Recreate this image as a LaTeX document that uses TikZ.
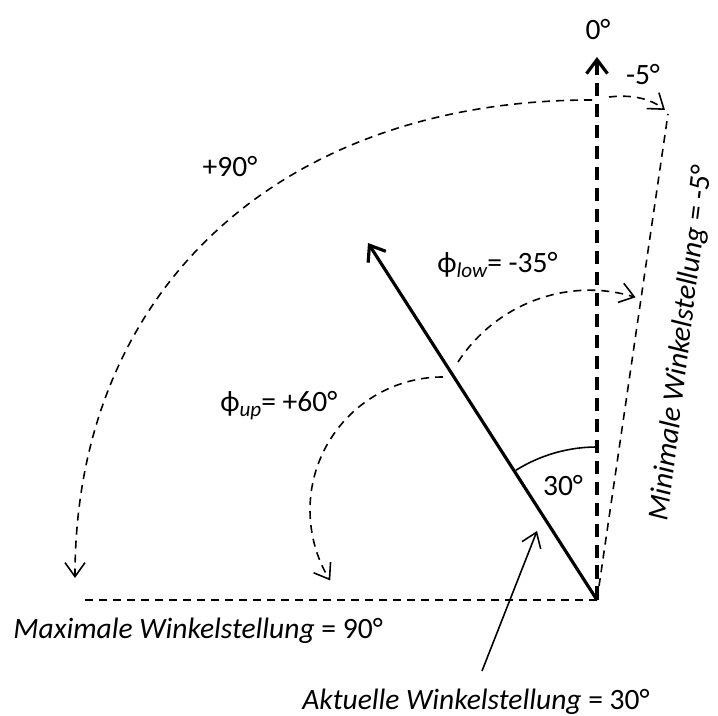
\documentclass[tikz,border=0pt]{standalone}
\usepackage{fontspec}
\setmainfont{Carlito}
\usetikzlibrary{arrows.meta}
\newcommand{\angsub}[1]{\raisebox{-0.1cm}{\fontsize{12}{12}\selectfont\itshape #1}}

\begin{document}
\begin{tikzpicture}[
  x=0.02cm, y=0.02cm,
  every node/.style={inner sep=0pt, font=\fontsize{16.8}{20}\selectfont},
  axis/.style={line width=1.8pt, dash pattern=on 0.27cm off 0.15cm},
  limit/.style={line width=0.9pt, dash pattern=on 0.16cm off 0.12cm},
  thinhead/.style={-{Straight Barb[length=0.28cm,width=0.4cm]}},
  bighead/.style={-{Straight Barb[length=0.28cm,width=0.42cm]}},
  pointer/.style={line width=0.9pt}
]
\useasboundingbox (0,0) rectangle (718,716);

\coordinate (O) at (597,116);
\coordinate (top) at (597,659);
\coordinate (left) at (80,116);
\coordinate (minend) at (668,602);
\coordinate (act) at (368,473);
\coordinate (aktfoot) at (482,45);
\coordinate (akthead) at (537,185);
\coordinate (maxs) at (592,616);
\coordinate (maxe) at (75,138);
\coordinate (mins) at (609,619);
\coordinate (mine) at (665,606);
\coordinate (ups) at (443,339);
\coordinate (lows) at (458,354);
\coordinate (arcs) at (597,269);

\draw[axis, bighead] (O) -- (top);
\draw[limit] (O) -- (left);
\draw[limit] (O) -- (minend);
\draw[bighead, line width=1.8pt] (O) -- (act);
\draw[pointer] (arcs) arc[start angle=90, end angle=122, radius=153];
\draw[pointer, thinhead] (aktfoot) -- (akthead);

\draw[limit, thinhead] (maxs) .. controls (280,616) and (75,426) .. (maxe);
\draw[limit, thinhead] (mins) .. controls (635,622) and (652,616) .. (mine);
\draw[limit, thinhead] (ups) arc[start angle=90, end angle=212, radius=133];
\draw[limit, thinhead] (lows) arc[start angle=147, end angle=73, radius=157];

\node (zero) at (598,686) {0°};
\node (minus5) at (643,641) {-5°};
\node (plus90) at (230,549) {+90°};
\node[anchor=base west] (philow) at (437,443) {ϕ\angsub{low}= -35°};
\node[anchor=base west] (phiup) at (220,304) {ϕ\angsub{up}= +60°};
\node (thirty) at (563,230) {30°};
\node[anchor=base west] (maxtext) at (13,77) {\textit{Maximale Winkelstellung} = 90°};
\node[anchor=base west] (akttext) at (302,6) {\textit{Aktuelle Winkelstellung} = 30°};
\node[rotate=83] (mintext) at (682,373) {\textit{Minimale Winkelstellung} = -5°};
\end{tikzpicture}
\end{document}
